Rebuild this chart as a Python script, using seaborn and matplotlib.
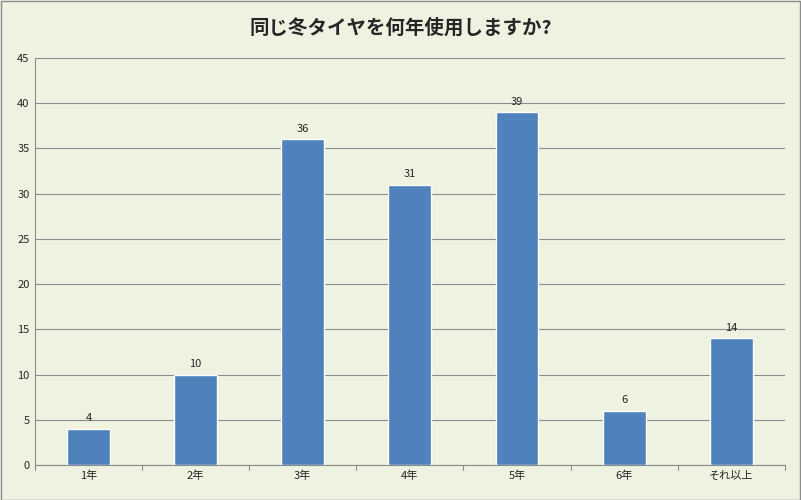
import matplotlib
matplotlib.use("Agg")
import matplotlib.pyplot as plt
import seaborn as sns
import pandas as pd

categories = ["1年", "2年", "3年", "4年", "5年", "6年", "それ以上"]
values = [4, 10, 36, 31, 39, 6, 14]
title = "同じ冬タイヤを何年使用しますか?"

sns.set_style("white")
plt.rcParams['font.family'] = ['Noto Sans CJK JP', 'DejaVu Sans']

bg = "#EEF2E1"
fig = plt.figure(figsize=(8.01, 5), dpi=100, facecolor=bg)
ax = fig.add_axes([0.0437, 0.07, 0.936, 0.814])
ax.set_facecolor(bg)
df = pd.DataFrame({"cat": categories, "val": values})
sns.barplot(data=df, x="cat", y="val", color="#4F81BD", saturation=1, width=0.4, ax=ax, zorder=3)
ax.set_ylim(0, 45)
ax.set_yticks(range(0, 46, 5))
ax.yaxis.grid(True, color="#8C8C8C", linewidth=0.8, zorder=0)
ax.set_xlabel("")
ax.set_ylabel("")
for s in ["top", "right"]:
    ax.spines[s].set_visible(False)
for s in ["left", "bottom"]:
    ax.spines[s].set_color("#8C8C8C")
ax.tick_params(axis="both", labelsize=8, length=0, pad=4)
for c in ax.containers:
    ax.bar_label(c, fontsize=8, padding=4)
# category separators on x axis
for i in range(len(categories) + 1):
    ax.plot([i - 0.5, i - 0.5], [0, -0.6], color="#8C8C8C", lw=0.8, clip_on=False)
ax.set_xlim(-0.5, len(categories) - 0.5)
fig.text(0.5, 0.945, title, ha="center", va="center", fontsize=14, fontweight="bold")
border = plt.Rectangle((0.001, 0.001), 0.998, 0.997, transform=fig.transFigure, fill=False, edgecolor="#8C8C8C", lw=1)
fig.patches.append(border)
fig.savefig("out.png", dpi=100, facecolor=bg)
